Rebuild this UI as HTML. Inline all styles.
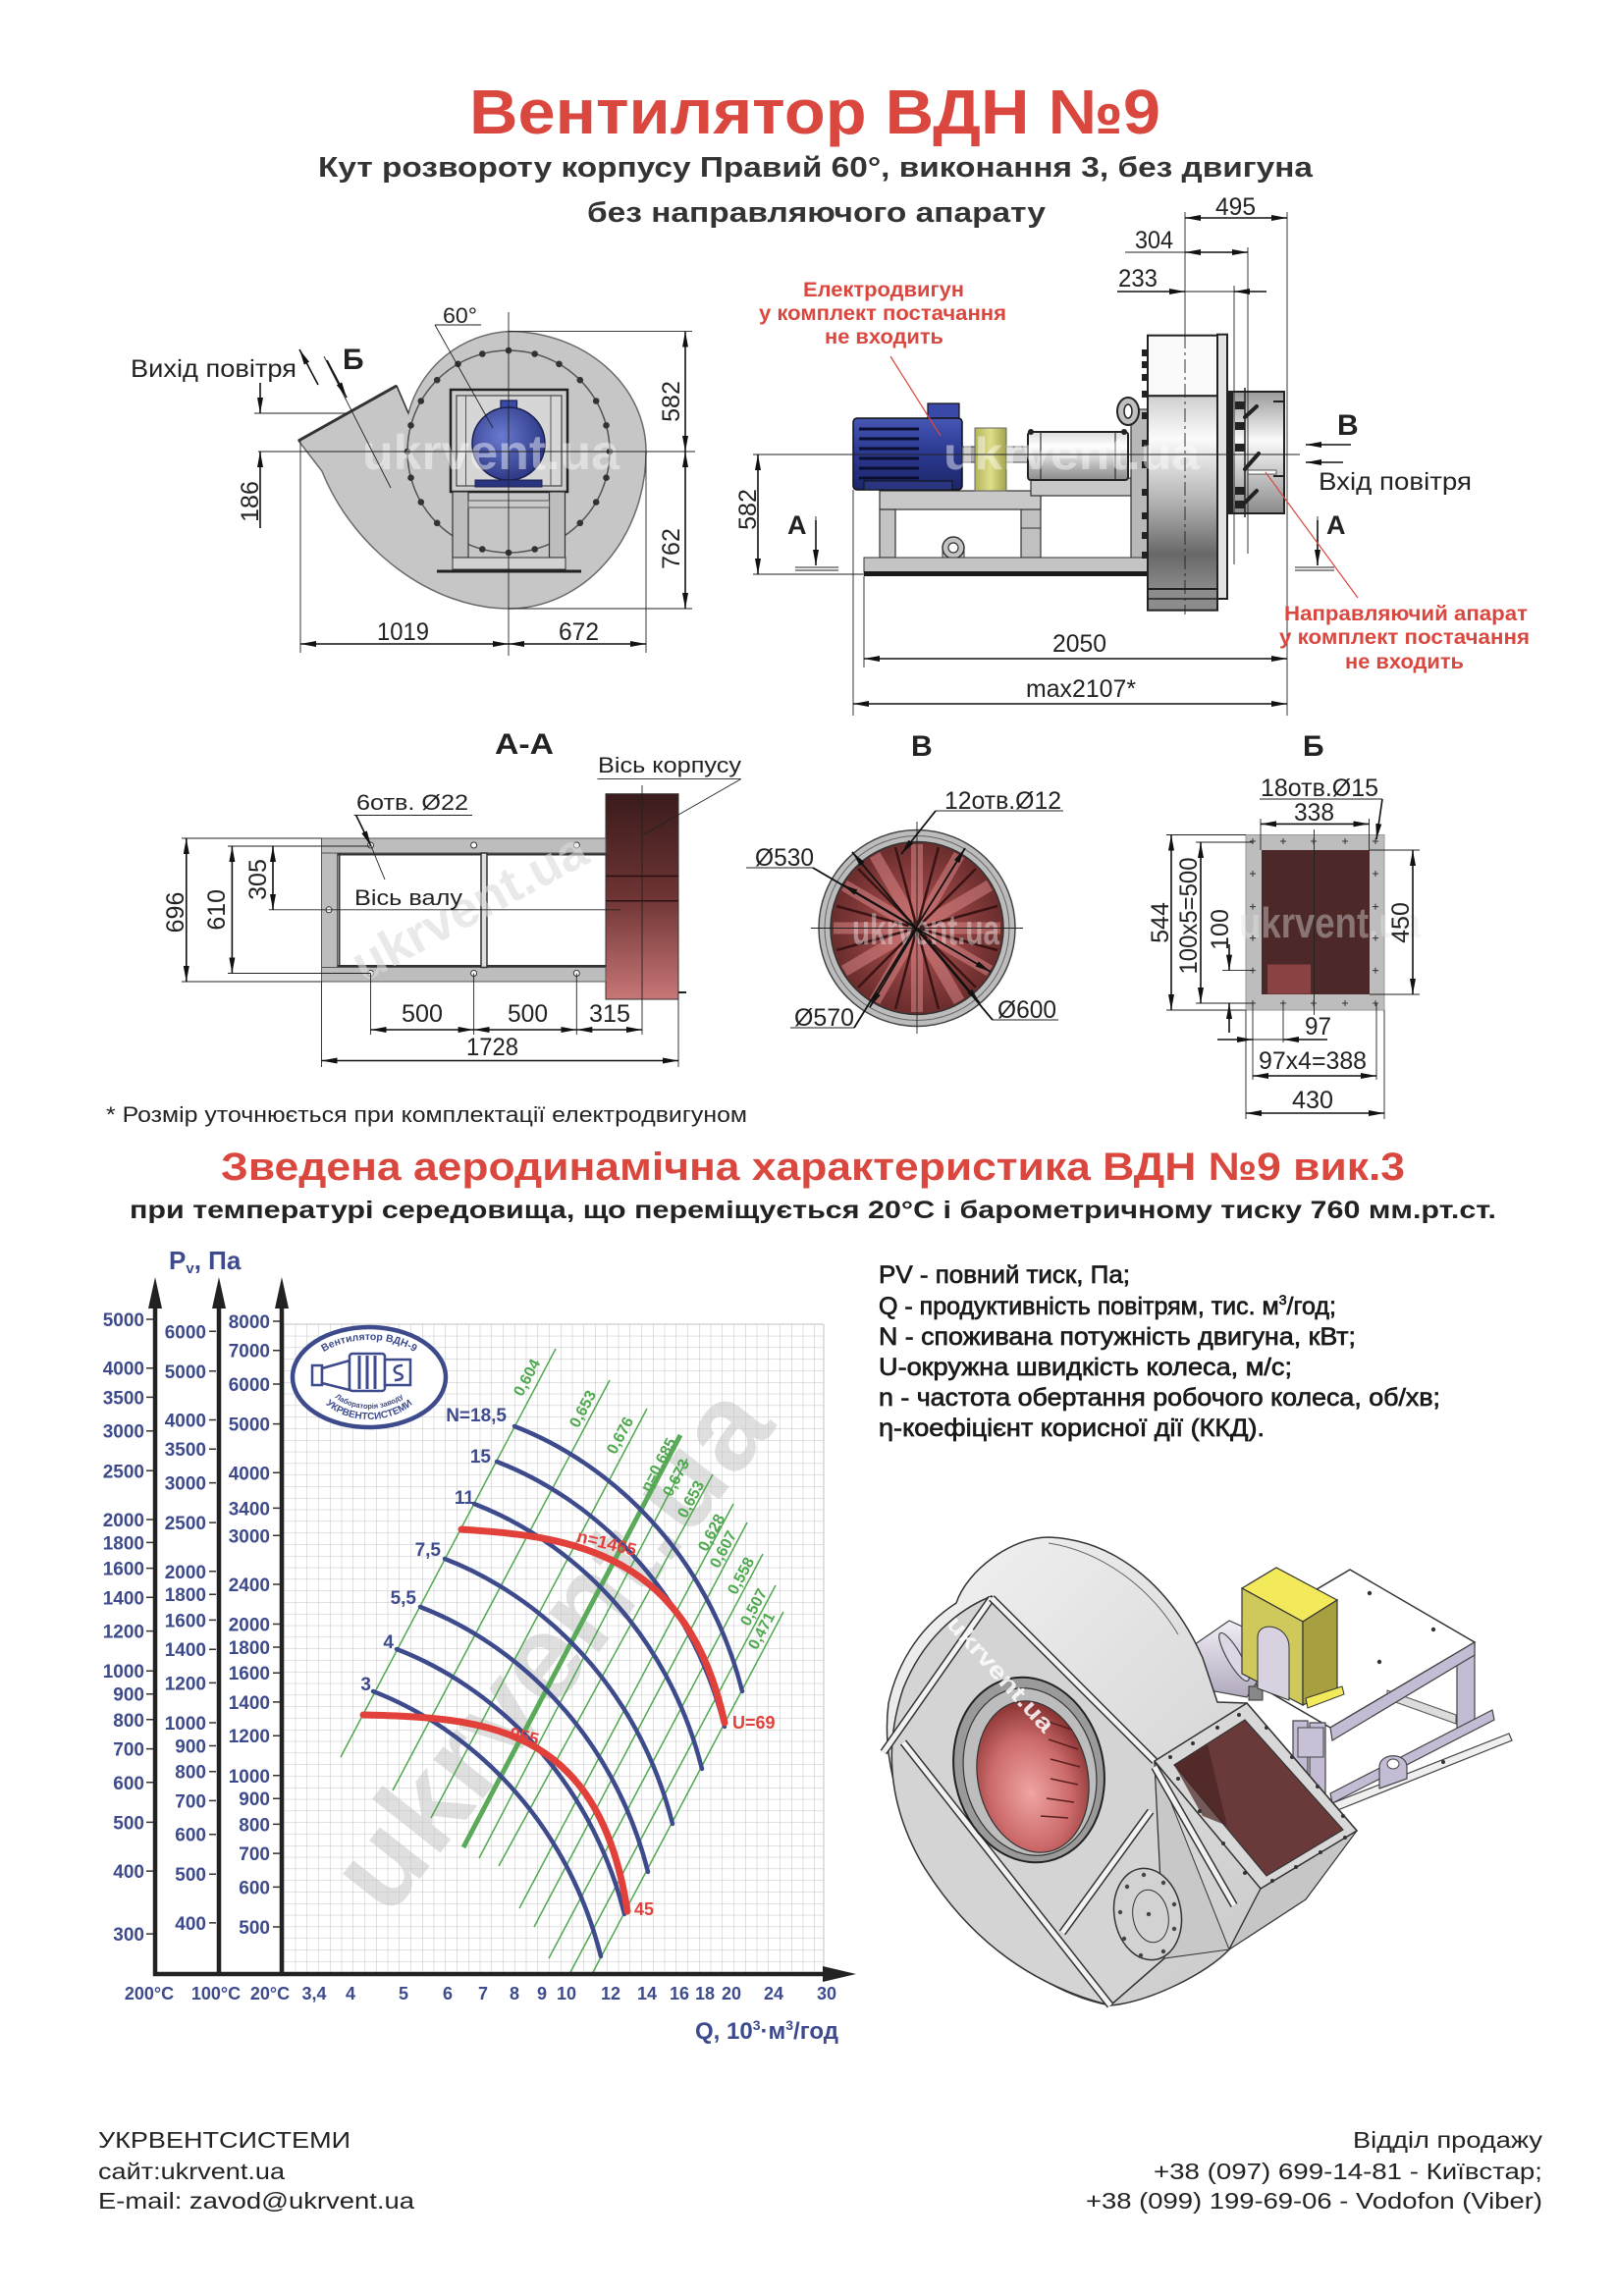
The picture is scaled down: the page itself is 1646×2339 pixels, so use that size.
<!DOCTYPE html>
<html><head><meta charset="utf-8"><title>Вентилятор ВДН №9</title>
<style>
html,body{margin:0;padding:0;background:#fff;}
svg{display:block;}
text{font-family:"Liberation Sans",Arial,sans-serif;}
</style></head><body>
<svg width="1646" height="2339" viewBox="0 0 1646 2339" xmlns="http://www.w3.org/2000/svg">
<defs>
 <marker id="ar" viewBox="0 0 16 6" refX="16" refY="3" markerWidth="16" markerHeight="6" markerUnits="userSpaceOnUse" orient="auto-start-reverse"><path d="M0,0 L16,3 L0,6 Z" fill="#111"/></marker>
 <linearGradient id="gMotor" x1="0" y1="0" x2="0" y2="1"><stop offset="0" stop-color="#4656b4"/><stop offset="0.45" stop-color="#2c3a92"/><stop offset="1" stop-color="#1c2668"/></linearGradient>
 <radialGradient id="gMotorC" cx="0.4" cy="0.4" r="0.7"><stop offset="0" stop-color="#6a7ad0"/><stop offset="1" stop-color="#25307c"/></radialGradient>
 <linearGradient id="gHous" x1="0" y1="0" x2="0" y2="1"><stop offset="0" stop-color="#cfcfcf"/><stop offset="0.22" stop-color="#fbfbfb"/><stop offset="0.55" stop-color="#b2b2b2"/><stop offset="0.82" stop-color="#686868"/><stop offset="1" stop-color="#8a8a8a"/></linearGradient>
 <linearGradient id="gInlet" x1="0" y1="0" x2="0" y2="1"><stop offset="0" stop-color="#9a9a9a"/><stop offset="0.4" stop-color="#fafafa"/><stop offset="1" stop-color="#8a8a8a"/></linearGradient>
 <linearGradient id="gBear" x1="0" y1="0" x2="0" y2="1"><stop offset="0" stop-color="#dcdcdc"/><stop offset="0.3" stop-color="#ffffff"/><stop offset="0.8" stop-color="#a8a8a8"/><stop offset="1" stop-color="#8c8c8c"/></linearGradient>
 <linearGradient id="gCoup" x1="0" y1="0" x2="1" y2="0"><stop offset="0" stop-color="#b4b45c"/><stop offset="0.5" stop-color="#dede8c"/><stop offset="1" stop-color="#a4a44c"/></linearGradient>
 <linearGradient id="gAA" x1="0" y1="0" x2="0" y2="1"><stop offset="0" stop-color="#3a1b1b"/><stop offset="0.5" stop-color="#6e3434"/><stop offset="1" stop-color="#c87676"/></linearGradient>
 <radialGradient id="gBdisk" cx="0.5" cy="0.5" r="0.5"><stop offset="0" stop-color="#b45656"/><stop offset="1" stop-color="#6a2c2c"/></radialGradient>
 <radialGradient id="gRed3d" cx="0.45" cy="0.6" r="0.6"><stop offset="0" stop-color="#f0a4a4"/><stop offset="0.6" stop-color="#cc6a6a"/><stop offset="1" stop-color="#8a3434"/></radialGradient>
 <linearGradient id="gShell" x1="0" y1="0" x2="1" y2="1"><stop offset="0" stop-color="#f4f4f4"/><stop offset="1" stop-color="#c4c4c4"/></linearGradient>
 <linearGradient id="gShaft" x1="0" y1="0" x2="0" y2="1"><stop offset="0" stop-color="#f2eef6"/><stop offset="1" stop-color="#b0a8bc"/></linearGradient>
 <pattern id="grid" x="289" y="1349" width="11.75" height="11.8" patternUnits="userSpaceOnUse"><path d="M0,0 V11.8 M0,0 H11.75" stroke="#c2c2c2" stroke-width="1" fill="none"/></pattern>
 <path id="lt" d="M312,1405 A64,40 0 0 1 440,1405"/>
 <path id="lb" d="M318,1402 A58,44 0 0 0 434,1402"/>
 <path id="lb2" d="M330,1402 A46,33 0 0 0 422,1402"/>
</defs>

<!-- ================= HEADER ================= -->
<text x="478" y="136" font-size="64" font-weight="bold" fill="#d9473f" textLength="704" lengthAdjust="spacingAndGlyphs">Вентилятор  ВДН №9</text>
<text x="324" y="180" font-size="29" font-weight="bold" fill="#333" textLength="1013" lengthAdjust="spacingAndGlyphs">Кут розвороту корпусу Правий 60°, виконання 3, без двигуна</text>
<text x="598" y="226" font-size="29" font-weight="bold" fill="#333" textLength="467" lengthAdjust="spacingAndGlyphs">без направляючого апарату</text>

<!-- ================= LEFT VIEW ================= -->
<g>
 <path d="M304,449 L404,393 L416,421 A112,112 0 0 1 518,337.6 A140,122.4 0 0 1 658,460 A140,160 0 0 1 518,620 C440,620 360,560 328,480 Z" fill="#c6c6c6" stroke="#6a6a6a" stroke-width="1.5"/>
 <line x1="304" y1="449" x2="404" y2="393" stroke="#333" stroke-width="3"/>
 <line x1="404" y1="393" x2="416" y2="421" stroke="#333" stroke-width="1.5"/>
 <circle cx="518" cy="460" r="103" fill="none" stroke="#555" stroke-width="1.5"/>
 <g fill="#333">
  <circle cx="621" cy="460" r="3.3"/><circle cx="617.5" cy="486.7" r="3.3"/><circle cx="607.2" cy="511.5" r="3.3"/><circle cx="590.8" cy="532.8" r="3.3"/><circle cx="569.5" cy="549.2" r="3.3"/><circle cx="544.7" cy="559.5" r="3.3"/><circle cx="518" cy="563" r="3.3"/><circle cx="491.3" cy="559.5" r="3.3"/><circle cx="466.5" cy="549.2" r="3.3"/><circle cx="445.2" cy="532.8" r="3.3"/><circle cx="428.8" cy="511.5" r="3.3"/><circle cx="418.5" cy="486.7" r="3.3"/><circle cx="415" cy="460" r="3.3"/><circle cx="418.5" cy="433.3" r="3.3"/><circle cx="428.8" cy="408.5" r="3.3"/><circle cx="445.2" cy="387.2" r="3.3"/><circle cx="466.5" cy="370.8" r="3.3"/><circle cx="491.3" cy="360.5" r="3.3"/><circle cx="518" cy="357" r="3.3"/><circle cx="544.7" cy="360.5" r="3.3"/><circle cx="569.5" cy="370.8" r="3.3"/><circle cx="590.8" cy="387.2" r="3.3"/><circle cx="607.2" cy="408.5" r="3.3"/><circle cx="617.5" cy="433.3" r="3.3"/>
 </g>
 <rect x="459" y="397" width="119" height="104" fill="#cdcdcd" stroke="#222" stroke-width="2.5"/>
 <rect x="465" y="403" width="107" height="92" fill="#d6d6d6" stroke="#444" stroke-width="1.2"/>
 <line x1="474.5" y1="403" x2="474.5" y2="495" stroke="#555" stroke-width="1"/>
 <line x1="561" y1="403" x2="561" y2="495" stroke="#555" stroke-width="1"/>
 <rect x="461" y="501" width="16" height="67" fill="#bdbdbd" stroke="#333" stroke-width="1.2"/>
 <rect x="559.5" y="501" width="16" height="67" fill="#bdbdbd" stroke="#333" stroke-width="1.2"/>
 <rect x="477" y="510" width="82.5" height="7" fill="#cacaca" stroke="#555" stroke-width="1"/>
 <rect x="461" y="568" width="115" height="12" fill="#d2d2d2" stroke="#333" stroke-width="1"/>
 <line x1="445" y1="582" x2="592" y2="582" stroke="#222" stroke-width="3"/>
 <rect x="510" y="408" width="16.5" height="19" fill="#3a4aa8" stroke="#1a2050" stroke-width="1.2"/>
 <circle cx="518" cy="452" r="37" fill="url(#gMotorC)" stroke="#1a2050" stroke-width="1.5"/>
 <rect x="484" y="489" width="68" height="7" fill="#2a3580" stroke="#1a2050" stroke-width="1"/>
 <text x="369" y="478" font-size="50" font-weight="bold" fill="#ffffff" opacity="0.45" textLength="262" lengthAdjust="spacingAndGlyphs">ukrvent.ua</text>
 <line x1="263" y1="460" x2="708" y2="460" stroke="#222" stroke-width="0.9"/>
 <line x1="518" y1="318" x2="518" y2="668" stroke="#222" stroke-width="0.9"/>
 <g stroke="#222" stroke-width="0.9">
  <line x1="518" y1="337.6" x2="705" y2="337.6"/><line x1="518" y1="620" x2="705" y2="620"/>
  <line x1="306" y1="449" x2="306" y2="665"/><line x1="658" y1="460" x2="658" y2="665"/>
  <line x1="259" y1="421" x2="355" y2="421"/>
  <line x1="330" y1="363" x2="398" y2="497"/>
  <line x1="443" y1="331" x2="502" y2="436"/><line x1="443" y1="331" x2="490" y2="331"/>
 </g>
 <g stroke="#111" stroke-width="1.6" marker-start="url(#ar)" marker-end="url(#ar)">
  <line x1="698" y1="337.6" x2="698" y2="460"/><line x1="698" y1="460" x2="698" y2="620"/>
  <line x1="306" y1="656" x2="518" y2="656"/><line x1="518" y1="656" x2="658" y2="656"/>
 </g>
 <g stroke="#111" stroke-width="1.6" marker-end="url(#ar)">
  <line x1="265" y1="390" x2="265" y2="421"/><line x1="265" y1="538" x2="265" y2="460"/>
  <line x1="324" y1="392" x2="305" y2="356"/><line x1="333" y1="367" x2="353" y2="405"/>
 </g>
 <g font-size="25" fill="#222">
  <text transform="translate(692,409) rotate(-90)" text-anchor="middle">582</text>
  <text transform="translate(692,559) rotate(-90)" text-anchor="middle">762</text>
  <text transform="translate(263,511) rotate(-90)" text-anchor="middle">186</text>
  <text x="384" y="652" textLength="53" lengthAdjust="spacingAndGlyphs">1019</text>
  <text x="569" y="652" textLength="41" lengthAdjust="spacingAndGlyphs">672</text>
  <text x="133" y="384" textLength="169" lengthAdjust="spacingAndGlyphs">Вихід повітря</text>
  <text x="451" y="329" font-size="22" textLength="35" lengthAdjust="spacingAndGlyphs">60°</text>
 </g>
 <text x="349" y="376" font-size="30" font-weight="bold" fill="#222">Б</text>
</g>

<!-- ================= RIGHT VIEW ================= -->
<g>
 <rect x="1040" y="505" width="20" height="63" fill="#c0c0c0" stroke="#333" stroke-width="1.2"/>
 <line x1="1040" y1="538" x2="1060" y2="538" stroke="#333" stroke-width="1"/>
 <rect x="896" y="500" width="164" height="19" fill="#c8c8c8" stroke="#333" stroke-width="1.2"/>
 <rect x="896" y="519" width="16" height="49" fill="#c4c4c4" stroke="#333" stroke-width="1.2"/>
 <rect x="1050" y="487" width="102" height="18" fill="#c8c8c8" stroke="#333" stroke-width="1.2"/>
 <rect x="1152" y="417" width="17" height="166" fill="#b8b8b8" stroke="#333" stroke-width="1.2"/>
 <rect x="960" y="558" width="22" height="12" fill="#c4c4c4" stroke="#333" stroke-width="1"/>
 <circle cx="971" cy="558" r="11" fill="#c4c4c4" stroke="#333" stroke-width="1.5"/>
 <circle cx="971" cy="558" r="5" fill="#fff" stroke="#333" stroke-width="1.2"/>
 <rect x="880" y="568" width="289" height="15" fill="#c4c4c4" stroke="#333" stroke-width="1"/>
 <rect x="880" y="582" width="289" height="5" fill="#1a1a1a"/>
 <rect x="945" y="411" width="32" height="17" fill="#3a48a8" stroke="#111" stroke-width="1.2"/>
 <rect x="869" y="426" width="111" height="73" rx="4" fill="url(#gMotor)" stroke="#111" stroke-width="1.5"/>
 <g stroke="#0a0f30" stroke-width="3">
  <line x1="875" y1="437" x2="936" y2="437"/><line x1="875" y1="447" x2="936" y2="447"/><line x1="875" y1="457" x2="936" y2="457"/><line x1="875" y1="467" x2="936" y2="467"/><line x1="875" y1="477" x2="936" y2="477"/><line x1="875" y1="487" x2="936" y2="487"/>
 </g>
 <rect x="880" y="490" width="90" height="9" fill="#2a3580" stroke="#111" stroke-width="1"/>
 <rect x="980" y="455" width="13" height="16" fill="#aaa" stroke="#333" stroke-width="1"/>
 <rect x="993" y="436" width="32" height="64" fill="url(#gCoup)" stroke="#666" stroke-width="1"/>
 <rect x="1025" y="455" width="22" height="16" fill="#d0d0d0" stroke="#555" stroke-width="1"/>
 <rect x="1047" y="440" width="102" height="49" rx="3" fill="url(#gBear)" stroke="#222" stroke-width="2"/>
 <line x1="1060" y1="440" x2="1060" y2="489" stroke="#333" stroke-width="1.2"/>
 <line x1="1136" y1="440" x2="1136" y2="489" stroke="#333" stroke-width="1.2"/>
 <circle cx="1050" cy="440" r="3" fill="#222"/><circle cx="1145" cy="440" r="3" fill="#222"/>
 <ellipse cx="1149" cy="419" rx="11" ry="14" fill="#c0c0c0" stroke="#222" stroke-width="2"/>
 <ellipse cx="1149" cy="419" rx="4" ry="7" fill="#fff" stroke="#222" stroke-width="1.5"/>
 <rect x="1169" y="341.7" width="71" height="61.6" fill="#fafafa" stroke="#222" stroke-width="2"/>
 <rect x="1169" y="403.3" width="71" height="197" fill="url(#gHous)" stroke="#222" stroke-width="2"/>
 <rect x="1169" y="600" width="71" height="21.7" fill="#8c8c8c" stroke="#222" stroke-width="2"/>
 <line x1="1169" y1="610" x2="1240" y2="610" stroke="#222" stroke-width="1.5"/>
 <rect x="1240" y="340.7" width="10" height="269.3" fill="#e2e2e2" stroke="#222" stroke-width="2"/>
 <g fill="#222">
  <rect x="1163" y="356" width="6" height="7"/><rect x="1163" y="368" width="6" height="7"/><rect x="1163" y="381" width="6" height="7"/><rect x="1163" y="398" width="6" height="7"/><rect x="1163" y="420" width="6" height="7"/><rect x="1163" y="448" width="6" height="7"/><rect x="1163" y="470" width="6" height="7"/><rect x="1163" y="498" width="6" height="7"/><rect x="1163" y="522" width="6" height="7"/><rect x="1163" y="542" width="6" height="7"/><rect x="1163" y="562" width="6" height="7"/>
 </g>
 <rect x="1252" y="399" width="56" height="124" fill="url(#gInlet)" stroke="#222" stroke-width="2"/>
 <rect x="1250" y="399" width="6" height="124" fill="#222"/>
 <line x1="1268" y1="395" x2="1268" y2="527" stroke="#222" stroke-width="1.5"/>
 <line x1="1297" y1="409" x2="1308" y2="409" stroke="#222" stroke-width="2"/>
 <line x1="1297" y1="485" x2="1308" y2="485" stroke="#222" stroke-width="2"/>
 <rect x="1271" y="479" width="29" height="4" fill="#fff" stroke="#333" stroke-width="0.8"/>
 <g fill="#222">
  <rect x="1258" y="409" width="10" height="8"/><rect x="1258" y="430" width="10" height="8"/><rect x="1258" y="452" width="10" height="8"/><rect x="1258" y="496" width="10" height="8"/><rect x="1258" y="510" width="10" height="8"/>
 </g>
 <g stroke="#222" stroke-width="4" stroke-linecap="round">
  <line x1="1268" y1="425" x2="1280" y2="414"/><line x1="1268" y1="478" x2="1282" y2="462"/><line x1="1268" y1="512" x2="1280" y2="500"/>
 </g>
 <text x="961" y="478" font-size="46" font-weight="bold" fill="#ffffff" opacity="0.45" textLength="261" lengthAdjust="spacingAndGlyphs">ukrvent.ua</text>
 <g stroke="#222" stroke-width="0.9">
  <line x1="767" y1="463" x2="1324" y2="463"/>
  <line x1="1207" y1="216" x2="1207" y2="341"/>
  <line x1="1207" y1="341" x2="1207" y2="626" stroke-dasharray="14,4,3,4"/>
  <line x1="1311" y1="216" x2="1311" y2="729"/>
  <line x1="1271" y1="252" x2="1271" y2="564"/>
  <line x1="1257" y1="291" x2="1257" y2="575"/>
  <line x1="869" y1="499" x2="869" y2="729"/>
  <line x1="880" y1="587" x2="880" y2="680"/>
  <line x1="767" y1="585" x2="880" y2="585"/>
  <line x1="1146" y1="257" x2="1207" y2="257"/>
  <line x1="1207" y1="297" x2="1257" y2="297"/>
  <line x1="831" y1="526" x2="831" y2="575"/>
  <line x1="810" y1="578" x2="854" y2="578"/><line x1="810" y1="581" x2="854" y2="581"/>
  <line x1="1342" y1="526" x2="1342" y2="575"/>
  <line x1="1319" y1="578" x2="1359" y2="578"/><line x1="1319" y1="581" x2="1359" y2="581"/>
 </g>
 <g stroke="#111" stroke-width="1.6" marker-start="url(#ar)" marker-end="url(#ar)">
  <line x1="1207" y1="222" x2="1311" y2="222"/>
  <line x1="1207" y1="257" x2="1271" y2="257"/>
  <line x1="772" y1="463" x2="772" y2="585"/>
  <line x1="880" y1="671" x2="1311" y2="671"/>
  <line x1="869" y1="717" x2="1311" y2="717"/>
 </g>
 <g stroke="#111" stroke-width="1.6" marker-end="url(#ar)">
  <line x1="1138" y1="297" x2="1207" y2="297"/>
  <line x1="1290" y1="297" x2="1257" y2="297"/>
  <line x1="831" y1="530" x2="831" y2="576"/>
  <line x1="1342" y1="530" x2="1342" y2="576"/>
  <line x1="1376" y1="453" x2="1330" y2="453"/>
  <line x1="1368" y1="471" x2="1330" y2="471"/>
 </g>
 <g font-size="25" fill="#222">
  <text x="1238" y="219" textLength="41" lengthAdjust="spacingAndGlyphs">495</text>
  <text x="1156" y="253" textLength="39" lengthAdjust="spacingAndGlyphs">304</text>
  <text x="1139" y="292" textLength="40" lengthAdjust="spacingAndGlyphs">233</text>
  <text x="1072" y="664" textLength="55" lengthAdjust="spacingAndGlyphs">2050</text>
  <text x="1045" y="710" textLength="112" lengthAdjust="spacingAndGlyphs">max2107*</text>
  <text transform="translate(770,519) rotate(-90)" text-anchor="middle">582</text>
  <text x="1343" y="499" textLength="156" lengthAdjust="spacingAndGlyphs">Вхід повітря</text>
 </g>
 <g font-weight="bold" fill="#222">
  <text x="802" y="544" font-size="27">А</text>
  <text x="1351" y="544" font-size="27">А</text>
  <text x="1362" y="443" font-size="30">В</text>
 </g>
 <g stroke="#d9473f" stroke-width="1.2">
  <line x1="907" y1="363" x2="958" y2="444"/>
  <line x1="1289" y1="481" x2="1383" y2="609"/>
 </g>
 <g font-size="21" font-weight="bold" fill="#d9473f">
  <text x="818" y="302" textLength="164" lengthAdjust="spacingAndGlyphs">Електродвигун</text>
  <text x="773" y="326" textLength="252" lengthAdjust="spacingAndGlyphs">у комплект постачання</text>
  <text x="840" y="350" textLength="121" lengthAdjust="spacingAndGlyphs">не входить</text>
  <text x="1308" y="632" textLength="248" lengthAdjust="spacingAndGlyphs">Направляючий апарат</text>
  <text x="1303" y="656" textLength="255" lengthAdjust="spacingAndGlyphs">у комплект постачання</text>
  <text x="1370" y="681" textLength="121" lengthAdjust="spacingAndGlyphs">не входить</text>
 </g>
</g>

<!-- ================= SECTION HEADINGS ================= -->
<g font-size="30" font-weight="bold" fill="#222">
 <text x="504" y="768" textLength="60" lengthAdjust="spacingAndGlyphs">А-А</text>
 <text x="928" y="770">В</text>
 <text x="1327" y="770">Б</text>
</g>

<!-- ================= A-A ================= -->
<g>
 <rect x="617" y="808.7" width="74" height="209.3" fill="url(#gAA)" stroke="#333" stroke-width="1"/>
 <line x1="617" y1="892.5" x2="691" y2="892.5" stroke="#2a1010" stroke-width="1.5"/>
 <line x1="617" y1="917.7" x2="691" y2="917.7" stroke="#2a1010" stroke-width="1.5"/>
 <line x1="691" y1="1011" x2="699" y2="1011" stroke="#222" stroke-width="2"/>
 <rect x="327.5" y="854" width="289.5" height="15" fill="#bdbdbd" stroke="#555" stroke-width="1"/>
 <rect x="327.5" y="985.5" width="289.5" height="14.5" fill="#bdbdbd" stroke="#555" stroke-width="1"/>
 <rect x="327.5" y="869" width="16" height="116.5" fill="#bdbdbd" stroke="#555" stroke-width="1"/>
 <line x1="344" y1="870.5" x2="617" y2="870.5" stroke="#333" stroke-width="2"/>
 <line x1="344" y1="984" x2="617" y2="984" stroke="#333" stroke-width="2"/>
 <line x1="345.5" y1="869" x2="345.5" y2="985" stroke="#333" stroke-width="2"/>
 <rect x="490" y="869" width="6" height="116.5" fill="#e0e0e0" stroke="#333" stroke-width="1.5"/>
 <g fill="#fff" stroke="#333" stroke-width="1">
  <circle cx="377.5" cy="861" r="3"/><circle cx="482.6" cy="861" r="3"/><circle cx="587.3" cy="861" r="3"/>
  <circle cx="377.5" cy="991.5" r="3"/><circle cx="482.6" cy="991.5" r="3"/><circle cx="587.3" cy="991.5" r="3"/>
  <circle cx="335" cy="926.8" r="3"/>
 </g>
 <text x="345" y="960" font-size="52" font-weight="bold" fill="#dcdcdc" opacity="0.6" transform="rotate(-28 440 930)">ukrvent.ua</text>
 <g stroke="#222" stroke-width="0.9">
  <line x1="273.7" y1="926.8" x2="632" y2="926.8"/>
  <line x1="654" y1="800" x2="654" y2="1054"/>
  <line x1="185" y1="854" x2="327.5" y2="854"/>
  <line x1="232" y1="862" x2="377.5" y2="862"/>
  <line x1="232" y1="991.5" x2="377.5" y2="991.5"/>
  <line x1="185" y1="1000" x2="327.5" y2="1000"/>
  <line x1="327.5" y1="1000" x2="327.5" y2="1087"/>
  <line x1="377.5" y1="991.5" x2="377.5" y2="1054"/>
  <line x1="482.6" y1="991.5" x2="482.6" y2="1054"/>
  <line x1="587.3" y1="991.5" x2="587.3" y2="1054"/>
  <line x1="691" y1="1018" x2="691" y2="1087"/>
  <line x1="360.6" y1="830.5" x2="481" y2="830.5"/>
  <line x1="378" y1="862" x2="392" y2="896"/>
  <line x1="608.5" y1="793.6" x2="754.7" y2="793.6"/>
  <line x1="754.7" y1="793.6" x2="655" y2="850.6"/>
 </g>
 <g stroke="#111" stroke-width="1.6" marker-start="url(#ar)" marker-end="url(#ar)">
  <line x1="189.8" y1="854" x2="189.8" y2="1000"/>
  <line x1="236.4" y1="862" x2="236.4" y2="991.5"/>
  <line x1="278" y1="862" x2="278" y2="926.8"/>
  <line x1="377.5" y1="1049" x2="482.6" y2="1049"/>
  <line x1="482.6" y1="1049" x2="587.3" y2="1049"/>
  <line x1="587.3" y1="1049" x2="654" y2="1049"/>
  <line x1="327.5" y1="1080.5" x2="691" y2="1080.5"/>
 </g>
 <line x1="362.7" y1="830.5" x2="378" y2="862" stroke="#111" stroke-width="1.6" marker-end="url(#ar)"/>
 <g font-size="25" fill="#222">
  <text transform="translate(187,929.5) rotate(-90)" text-anchor="middle">696</text>
  <text transform="translate(229,926.8) rotate(-90)" text-anchor="middle">610</text>
  <text transform="translate(271,896) rotate(-90)" text-anchor="middle">305</text>
  <text x="409" y="1041" textLength="42" lengthAdjust="spacingAndGlyphs">500</text>
  <text x="517" y="1041" textLength="41" lengthAdjust="spacingAndGlyphs">500</text>
  <text x="600" y="1041" textLength="42" lengthAdjust="spacingAndGlyphs">315</text>
  <text x="475" y="1075" textLength="53" lengthAdjust="spacingAndGlyphs">1728</text>
 </g>
 <g font-size="22" fill="#222">
  <text x="363" y="825" textLength="114" lengthAdjust="spacingAndGlyphs">6отв. Ø22</text>
  <text x="361" y="922" textLength="110" lengthAdjust="spacingAndGlyphs">Вісь валу</text>
  <text x="609" y="787" textLength="146" lengthAdjust="spacingAndGlyphs">Вісь корпусу</text>
 </g>
</g>

<!-- ================= B VIEW ================= -->
<g>
 <circle cx="934" cy="945.5" r="100" fill="#bcbcbc" stroke="#444" stroke-width="1.5"/>
 <circle cx="934" cy="945.5" r="94" fill="none" stroke="#666" stroke-width="1"/>
 <circle cx="934" cy="945.5" r="88" fill="url(#gBdisk)" stroke="#333" stroke-width="1.5"/>
 <g stroke="#d88484" stroke-width="12" opacity="0.55">
  <line x1="934" y1="945.5" x2="934" y2="860"/><line x1="934" y1="945.5" x2="977" y2="871"/><line x1="934" y1="945.5" x2="1008" y2="902"/><line x1="934" y1="945.5" x2="1019" y2="945.5"/><line x1="934" y1="945.5" x2="1008" y2="989"/><line x1="934" y1="945.5" x2="977" y2="1020"/><line x1="934" y1="945.5" x2="934" y2="1031"/><line x1="934" y1="945.5" x2="891" y2="1020"/><line x1="934" y1="945.5" x2="860" y2="989"/><line x1="934" y1="945.5" x2="849" y2="945.5"/><line x1="934" y1="945.5" x2="860" y2="902"/><line x1="934" y1="945.5" x2="891" y2="871"/>
 </g>
 <g stroke="#3a1414" stroke-width="2.5">
  <line x1="934" y1="945.5" x2="956" y2="863"/><line x1="934" y1="945.5" x2="994" y2="885"/><line x1="934" y1="945.5" x2="1016" y2="923"/><line x1="934" y1="945.5" x2="1016" y2="968"/><line x1="934" y1="945.5" x2="994" y2="1006"/><line x1="934" y1="945.5" x2="956" y2="1028"/><line x1="934" y1="945.5" x2="912" y2="1028"/><line x1="934" y1="945.5" x2="874" y2="1006"/><line x1="934" y1="945.5" x2="852" y2="968"/><line x1="934" y1="945.5" x2="852" y2="923"/><line x1="934" y1="945.5" x2="874" y2="885"/><line x1="934" y1="945.5" x2="912" y2="863"/>
 </g>
 <circle cx="934" cy="945.5" r="8" fill="#4a1a1a"/>
 <text x="868" y="962" font-size="44" font-weight="bold" fill="#e8e8e8" opacity="0.45" textLength="150" lengthAdjust="spacingAndGlyphs">ukrvent.ua</text>
 <g stroke="#222" stroke-width="0.9">
  <line x1="826" y1="945.5" x2="1042" y2="945.5"/>
  <line x1="934" y1="837" x2="934" y2="1053"/>
  <line x1="953" y1="826" x2="1083" y2="826"/>
  <line x1="760" y1="884" x2="828" y2="884"/>
  <line x1="805" y1="1047" x2="870" y2="1047"/>
  <line x1="1011" y1="1039" x2="1078" y2="1039"/>
 </g>
 <g stroke="#111" stroke-width="1.8" marker-end="url(#ar)">
  <line x1="953" y1="826" x2="918" y2="870"/>
  <line x1="828" y1="884" x2="1009" y2="990"/>
  <line x1="934" y1="945.5" x2="858" y2="901"/>
  <line x1="1011" y1="1039" x2="868" y2="868"/>
  <line x1="934" y1="945.5" x2="998" y2="1022"/>
  <line x1="870" y1="1047" x2="983" y2="864"/>
  <line x1="934" y1="945.5" x2="886" y2="1026"/>
 </g>
 <g font-size="25" fill="#222">
  <text x="962" y="824" textLength="119" lengthAdjust="spacingAndGlyphs">12отв.Ø12</text>
  <text x="769" y="882" textLength="60" lengthAdjust="spacingAndGlyphs">Ø530</text>
  <text x="809" y="1045" textLength="61" lengthAdjust="spacingAndGlyphs">Ø570</text>
  <text x="1016" y="1037" textLength="60" lengthAdjust="spacingAndGlyphs">Ø600</text>
 </g>
</g>

<!-- ================= Б VIEW ================= -->
<g>
 <rect x="1269" y="850.5" width="141" height="178.5" fill="#bdbdbd" stroke="#999" stroke-width="1"/>
 <rect x="1285" y="866" width="110" height="147" fill="#4c2828"/>
 <rect x="1291" y="982.5" width="44" height="30" fill="#8a4242"/>
 <line x1="1338.5" y1="845" x2="1338.5" y2="1034" stroke="#222" stroke-width="0.9"/>
 <text x="1262" y="955" font-size="44" font-weight="bold" fill="#e6e6e6" opacity="0.4" textLength="185" lengthAdjust="spacingAndGlyphs">ukrvent.ua</text>
 <g stroke="#333" stroke-width="1">
  <path d="M1273,857h6M1276,854v6 M1304,857h6M1307,854v6 M1335,857h6M1338,854v6 M1367,857h6M1370,854v6 M1398,857h6M1401,854v6"/>
  <path d="M1273,1022h6M1276,1019v6 M1304,1022h6M1307,1019v6 M1335,1022h6M1338,1019v6 M1367,1022h6M1370,1019v6 M1398,1022h6M1401,1019v6"/>
  <path d="M1273,890h6M1276,887v6 M1273,923.6h6M1276,920.6v6 M1273,955.6h6M1276,952.6v6 M1273,988.6h6M1276,985.6v6"/>
  <path d="M1398,890h6M1401,887v6 M1398,923.6h6M1401,920.6v6 M1398,955.6h6M1401,952.6v6 M1398,988.6h6M1401,985.6v6"/>
 </g>
 <g stroke="#222" stroke-width="0.9">
  <line x1="1188" y1="850.5" x2="1269" y2="850.5"/>
  <line x1="1218" y1="858" x2="1276" y2="858"/>
  <line x1="1218" y1="1022" x2="1276" y2="1022"/>
  <line x1="1188" y1="1029" x2="1269" y2="1029"/>
  <line x1="1245" y1="988.6" x2="1276" y2="988.6"/>
  <line x1="1395" y1="866" x2="1446" y2="866"/>
  <line x1="1395" y1="1013" x2="1446" y2="1013"/>
  <line x1="1284" y1="834" x2="1284" y2="866"/>
  <line x1="1394.5" y1="834" x2="1394.5" y2="866"/>
  <line x1="1269" y1="1029" x2="1269" y2="1140"/>
  <line x1="1276" y1="1022" x2="1276" y2="1100"/>
  <line x1="1307" y1="1022" x2="1307" y2="1062"/>
  <line x1="1402" y1="1022" x2="1402" y2="1100"/>
  <line x1="1410" y1="1029" x2="1410" y2="1140"/>
  <line x1="1283" y1="814" x2="1408" y2="814"/>
  <line x1="1276" y1="1059" x2="1307" y2="1059"/>
 </g>
 <g stroke="#111" stroke-width="1.6" marker-start="url(#ar)" marker-end="url(#ar)">
  <line x1="1193" y1="850.5" x2="1193" y2="1029"/>
  <line x1="1223" y1="858" x2="1223" y2="1022"/>
  <line x1="1439" y1="866" x2="1439" y2="1013"/>
  <line x1="1284" y1="839.4" x2="1394.5" y2="839.4"/>
  <line x1="1276" y1="1096" x2="1402" y2="1096"/>
  <line x1="1269" y1="1134" x2="1410" y2="1134"/>
 </g>
 <g stroke="#111" stroke-width="1.6" marker-end="url(#ar)">
  <line x1="1252" y1="962" x2="1252" y2="988.6"/>
  <line x1="1252" y1="1052" x2="1252" y2="1022"/>
  <line x1="1408" y1="814" x2="1402" y2="855"/>
  <line x1="1240" y1="1059" x2="1276" y2="1059"/>
  <line x1="1352" y1="1059" x2="1307" y2="1059"/>
 </g>
 <g font-size="25" fill="#222">
  <text transform="translate(1190,940) rotate(-90)" text-anchor="middle">544</text>
  <text transform="translate(1219,933) rotate(-90)" text-anchor="middle" textLength="119" lengthAdjust="spacingAndGlyphs">100х5=500</text>
  <text transform="translate(1251,947) rotate(-90)" text-anchor="middle">100</text>
  <text transform="translate(1435,940) rotate(-90)" text-anchor="middle">450</text>
  <text x="1318" y="836" textLength="41" lengthAdjust="spacingAndGlyphs">338</text>
  <text x="1284" y="811" textLength="120" lengthAdjust="spacingAndGlyphs">18отв.Ø15</text>
  <text x="1329" y="1054" textLength="27" lengthAdjust="spacingAndGlyphs">97</text>
  <text x="1282" y="1089" textLength="110" lengthAdjust="spacingAndGlyphs">97х4=388</text>
  <text x="1316" y="1129" textLength="42" lengthAdjust="spacingAndGlyphs">430</text>
 </g>
</g>

<!-- ================= FOOTNOTE & HEADING 2 ================= -->
<text x="108" y="1143" font-size="22" fill="#222" textLength="653" lengthAdjust="spacingAndGlyphs">* Розмір уточнюється при комплектації електродвигуном</text>
<text x="225" y="1202" font-size="40" font-weight="bold" fill="#d9473f" textLength="1206" lengthAdjust="spacingAndGlyphs">Зведена аеродинамічна характеристика ВДН №9 вик.3</text>
<text x="132" y="1241" font-size="25" font-weight="bold" fill="#222" textLength="1392" lengthAdjust="spacingAndGlyphs">при температурі середовища, що переміщується 20°С і барометричному тиску 760 мм.рт.ст.</text>

<!-- ================= CHART ================= -->
<g>
 <rect x="289" y="1349" width="550" height="662" fill="url(#grid)"/>
 <line x1="839" y1="1349" x2="839" y2="2011" stroke="#c2c2c2" stroke-width="1"/>
 <line x1="289" y1="1349" x2="839" y2="1349" stroke="#c2c2c2" stroke-width="1"/>
 <text transform="translate(395,1955) rotate(-51.7)" font-size="122" font-weight="bold" fill="#c6c6c6" opacity="0.55" textLength="640" lengthAdjust="spacingAndGlyphs">ukrvent.ua</text>
 <g stroke="#4ea84e" stroke-width="1.5">
  <line x1="347" y1="1790" x2="566" y2="1374"/>
  <line x1="400" y1="1824" x2="621" y2="1406"/>
  <line x1="439" y1="1852" x2="659" y2="1435"/>
  <line x1="488" y1="1893" x2="700" y2="1486"/>
  <line x1="508" y1="1901" x2="726" y2="1502"/>
  <line x1="529" y1="1944" x2="747" y2="1532"/>
  <line x1="544" y1="1963" x2="761" y2="1551"/>
  <line x1="559" y1="1995" x2="777" y2="1583"/>
  <line x1="580" y1="2011" x2="790" y2="1615"/>
  <line x1="603" y1="2011" x2="798" y2="1642"/>
 </g>
 <line x1="472" y1="1882" x2="693" y2="1462" stroke="#5aaa5a" stroke-width="5"/>
 <g fill="none" stroke="#3d4a8c" stroke-width="4.5" stroke-linecap="round">
  <path d="M524,1453 C620,1490 720,1580 756,1723"/>
  <path d="M506,1489 C602,1526 702,1616 738,1759"/>
  <path d="M483,1532 C579,1569 679,1659 715,1802"/>
  <path d="M453,1588 C549,1625 649,1715 685,1858"/>
  <path d="M428,1637 C524,1674 624,1764 660,1907"/>
  <path d="M404,1680 C500,1717 600,1807 636,1950"/>
  <path d="M380,1723 C476,1760 576,1850 612,1993"/>
 </g>
 <g fill="none" stroke="#e2413b" stroke-width="7" stroke-linecap="round">
  <path d="M470,1558 C580,1565 700,1580 738,1755"/>
  <path d="M370,1747 C490,1750 610,1755 639,1947"/>
 </g>
 <g font-size="16" font-weight="bold" fill="#4ea84e" text-anchor="middle">
  <text transform="translate(536,1403) rotate(-62)" dy="6">0,604</text>
  <text transform="translate(593,1435) rotate(-62)" dy="6">0,653</text>
  <text transform="translate(631,1462) rotate(-62)" dy="6">0,676</text>
  <text transform="translate(670,1492) rotate(-62)" dy="6">η=0,685</text>
  <text transform="translate(688,1505) rotate(-62)" dy="6">0,673</text>
  <text transform="translate(703,1527) rotate(-62)" dy="6">0,653</text>
  <text transform="translate(724,1561) rotate(-62)" dy="6">0,628</text>
  <text transform="translate(736,1578) rotate(-62)" dy="6">0,607</text>
  <text transform="translate(754,1605) rotate(-62)" dy="6">0,558</text>
  <text transform="translate(767,1637) rotate(-62)" dy="6">0,507</text>
  <text transform="translate(775,1661) rotate(-62)" dy="6">0,471</text>
 </g>
 <g font-size="19" font-weight="bold" fill="#3d4a8c" text-anchor="end">
  <text x="516" y="1448">N=18,5</text>
  <text x="500" y="1490">15</text>
  <text x="483" y="1532">11</text>
  <text x="449" y="1585">7,5</text>
  <text x="424" y="1634">5,5</text>
  <text x="401" y="1679">4</text>
  <text x="378" y="1722">3</text>
 </g>
 <g font-size="18" font-weight="bold" fill="#e2413b">
  <text transform="translate(618,1572) rotate(14)" text-anchor="middle" dy="6">n=1465</text>
  <text transform="translate(534,1769) rotate(14)" text-anchor="middle" dy="6">955</text>
  <text x="746" y="1761">U=69</text>
  <text x="646" y="1951">45</text>
 </g>
 <ellipse cx="376" cy="1403" rx="78" ry="51" fill="#fff" stroke="#3d4a8c" stroke-width="4.5"/>
 <g fill="#3d4a8c" font-weight="bold">
  <text font-size="10.5"><textPath href="#lt" startOffset="50%" text-anchor="middle">Вентилятор ВДН-9</textPath></text>
  <text font-size="10"><textPath href="#lb" startOffset="50%" text-anchor="middle">УКРВЕНТСИСТЕМИ</textPath></text>
  <text font-size="7.5"><textPath href="#lb2" startOffset="50%" text-anchor="middle">Лабораторія заводу</textPath></text>
 </g>
 <g fill="#fff" stroke="#3d4a8c" stroke-width="2.5">
  <rect x="318" y="1391" width="10" height="20"/>
  <polygon points="328,1394 356,1386 356,1416 328,1409"/>
  <rect x="356" y="1379" width="36" height="38" rx="3"/>
  <rect x="392" y="1385" width="26" height="26"/>
 </g>
 <g stroke="#3d4a8c" stroke-width="3"><line x1="366" y1="1381" x2="366" y2="1415"/><line x1="374" y1="1381" x2="374" y2="1415"/><line x1="382" y1="1381" x2="382" y2="1415"/></g>
 <path d="M410,1391 C400,1391 400,1398 405,1399 C412,1400 412,1406 402,1406" fill="none" stroke="#3d4a8c" stroke-width="2.5"/>
 <g stroke="#222" stroke-width="4.5">
  <line x1="158" y1="1325" x2="158" y2="2013"/>
  <line x1="223" y1="1325" x2="223" y2="2013"/>
  <line x1="287" y1="1325" x2="287" y2="2013"/>
  <line x1="156" y1="2011" x2="842" y2="2011"/>
 </g>
 <g fill="#222">
  <polygon points="151,1333 158,1301 165,1333"/>
  <polygon points="216,1333 223,1301 230,1333"/>
  <polygon points="280,1333 287,1301 294,1333"/>
  <polygon points="838,2003 872,2011 838,2019"/>
 </g>
 <g stroke="#333" stroke-width="1.5">
  <path d="M149,1344h7M149,1393.7h7M149,1423.4h7M149,1457.7h7M149,1498.3h7M149,1548h7M149,1571.4h7M149,1597.6h7M149,1627.3h7M149,1661.6h7M149,1702.2h7M149,1725.7h7M149,1751.8h7M149,1781.6h7M149,1815.8h7M149,1856.4h7M149,1906.1h7M149,1970.1h7"/>
  <path d="M213,1356.3h7M213,1396.8h7M213,1446.5h7M213,1476.2h7M213,1510.6h7M213,1551.1h7M213,1600.8h7M213,1624.2h7M213,1650.4h7M213,1680.2h7M213,1714.4h7M213,1755h7M213,1778.5h7M213,1804.7h7M213,1834.4h7M213,1868.7h7M213,1909.2h7M213,1958.9h7"/>
  <path d="M278,1346h7M278,1375.7h7M278,1410h7M278,1450.6h7M278,1500.3h7M278,1536.4h7M278,1564.3h7M278,1614h7M278,1654.5h7M278,1678h7M278,1704.2h7M278,1733.9h7M278,1768.2h7M278,1808.8h7M278,1832.2h7M278,1858.4h7M278,1888.1h7M278,1922.4h7M278,1963h7"/>
 </g>
 <g font-size="19" font-weight="bold" fill="#3d4a8c" text-anchor="end">
  <text x="147" y="1351">5000</text><text x="147" y="1400.7">4000</text><text x="147" y="1430.4">3500</text><text x="147" y="1464.7">3000</text><text x="147" y="1505.3">2500</text><text x="147" y="1555">2000</text><text x="147" y="1578.4">1800</text><text x="147" y="1604.6">1600</text><text x="147" y="1634.3">1400</text><text x="147" y="1668.6">1200</text><text x="147" y="1709.2">1000</text><text x="147" y="1732.7">900</text><text x="147" y="1758.8">800</text><text x="147" y="1788.6">700</text><text x="147" y="1822.8">600</text><text x="147" y="1863.4">500</text><text x="147" y="1913.1">400</text><text x="147" y="1977.1">300</text>
  <text x="210" y="1363.3">6000</text><text x="210" y="1403.8">5000</text><text x="210" y="1453.5">4000</text><text x="210" y="1483.2">3500</text><text x="210" y="1517.6">3000</text><text x="210" y="1558.1">2500</text><text x="210" y="1607.8">2000</text><text x="210" y="1631.2">1800</text><text x="210" y="1657.4">1600</text><text x="210" y="1687.2">1400</text><text x="210" y="1721.4">1200</text><text x="210" y="1762">1000</text><text x="210" y="1785.5">900</text><text x="210" y="1811.7">800</text><text x="210" y="1841.4">700</text><text x="210" y="1875.7">600</text><text x="210" y="1916.2">500</text><text x="210" y="1965.9">400</text>
  <text x="275" y="1353">8000</text><text x="275" y="1382.7">7000</text><text x="275" y="1417">6000</text><text x="275" y="1457.6">5000</text><text x="275" y="1507.3">4000</text><text x="275" y="1543.4">3400</text><text x="275" y="1571.3">3000</text><text x="275" y="1621">2400</text><text x="275" y="1661.5">2000</text><text x="275" y="1685">1800</text><text x="275" y="1711.2">1600</text><text x="275" y="1740.9">1400</text><text x="275" y="1775.2">1200</text><text x="275" y="1815.8">1000</text><text x="275" y="1839.2">900</text><text x="275" y="1865.4">800</text><text x="275" y="1895.1">700</text><text x="275" y="1929.4">600</text><text x="275" y="1970">500</text>
 </g>
 <g font-size="18" font-weight="bold" fill="#3d4a8c" text-anchor="middle">
  <text x="152" y="2037">200°С</text><text x="220" y="2037">100°С</text><text x="275" y="2037">20°С</text>
  <text x="320" y="2037">3,4</text><text x="357" y="2037">4</text><text x="411" y="2037">5</text><text x="456" y="2037">6</text><text x="492" y="2037">7</text><text x="524" y="2037">8</text><text x="552" y="2037">9</text><text x="577" y="2037">10</text><text x="622" y="2037">12</text><text x="659" y="2037">14</text><text x="692" y="2037">16</text><text x="718" y="2037">18</text><text x="745" y="2037">20</text><text x="788" y="2037">24</text><text x="842" y="2037">30</text>
 </g>
 <text x="172" y="1293" font-size="26" font-weight="bold" fill="#3d4a8c">P<tspan font-size="15" dy="4">v</tspan><tspan dy="-4">, Па</tspan></text>
 <text x="708" y="2077" font-size="24" font-weight="bold" fill="#3d4a8c">Q, 10<tspan font-size="14" dy="-9">3</tspan><tspan dy="9">·м</tspan><tspan font-size="14" dy="-9">3</tspan><tspan dy="9">/год</tspan></text>
</g>

<!-- ================= LEGEND ================= -->
<g font-size="25" fill="#1a1a1a" stroke="#1a1a1a" stroke-width="0.7">
 <text x="895" y="1307" textLength="256" lengthAdjust="spacingAndGlyphs">PV - повний тиск, Па;</text>
 <text x="895" y="1339">Q - продуктивність повітрям, тис. м<tspan font-size="14" dy="-10">3</tspan><tspan dy="10">/год;</tspan></text>
 <text x="895" y="1370" textLength="486" lengthAdjust="spacingAndGlyphs">N - споживана потужність двигуна, кВт;</text>
 <text x="895" y="1401" textLength="421" lengthAdjust="spacingAndGlyphs">U-окружна швидкість колеса, м/с;</text>
 <text x="895" y="1432" textLength="572" lengthAdjust="spacingAndGlyphs">n - частота обертання робочого колеса, об/хв;</text>
 <text x="895" y="1463" textLength="393" lengthAdjust="spacingAndGlyphs">η-коефіцієнт корисної дії (ККД).</text>
</g>

<!-- ================= 3D FAN ================= -->
<g>
 <!-- frame behind -->
 <polygon points="1375,1599 1502,1673 1355,1760 1228,1686" fill="#ffffff" stroke="#333" stroke-width="1.5"/>
 <circle cx="1395" cy="1623" r="2.2" fill="#333"/><circle cx="1460" cy="1660" r="2.2" fill="#333"/><circle cx="1405" cy="1693" r="2.2" fill="#333"/>
 <polygon points="1413,1722 1483,1747 1483,1756 1413,1731" fill="#dcdcdc" stroke="#555" stroke-width="1"/>
 <polygon points="1484,1684 1502,1674 1502,1755 1484,1762" fill="#c4bcd4" stroke="#444" stroke-width="1.2"/>
 <polygon points="1502,1673 1355,1760 1357,1773 1502,1686" fill="#c4bcd4" stroke="#444" stroke-width="1.2"/>
 <polygon points="1317,1753 1332,1753 1332,1827 1317,1827" fill="#c4bcd4" stroke="#444" stroke-width="1.2"/>
 <polygon points="1334,1755 1350,1755 1350,1829 1334,1829" fill="#c4bcd4" stroke="#444" stroke-width="1.2"/>
 <rect x="1322" y="1760" width="26" height="30" fill="#c8c0d6" stroke="#444" stroke-width="1"/>
 <polygon points="1355,1827 1520,1742 1522,1752 1357,1837" fill="#c4bcd4" stroke="#444" stroke-width="1.2"/>
 <polygon points="1357,1837 1537,1766 1540,1773 1360,1845" fill="#f0f0f0" stroke="#444" stroke-width="1.2"/>
 <path d="M1405,1822 L1405,1800 C1405,1785 1433,1785 1433,1800 L1433,1812 Z" fill="#c4bcd4" stroke="#444" stroke-width="1.2"/>
 <ellipse cx="1419" cy="1797" rx="6" ry="5" fill="#fff" stroke="#444" stroke-width="1"/>
 <circle cx="1470" cy="1795" r="2" fill="#333"/>
 <!-- shaft -->
 <polygon points="1210,1680 1252,1651 1306,1675 1270,1729 1221,1720" fill="url(#gShaft)" stroke="#444" stroke-width="1.2"/>
 <ellipse cx="1257" cy="1688" rx="7" ry="28" transform="rotate(-30 1257 1688)" fill="#ddd6e4" stroke="#444" stroke-width="1.2"/>
 <rect x="1272" y="1718" width="14" height="14" fill="#888" stroke="#333" stroke-width="1"/>
 <!-- yellow box -->
 <polygon points="1265,1618 1300,1597 1362,1630 1327,1652" fill="#f2ea5a" stroke="#333" stroke-width="1.2"/>
 <polygon points="1265,1618 1327,1652 1327,1737 1265,1705" fill="#cfc85a" stroke="#333" stroke-width="1.2"/>
 <polygon points="1327,1652 1362,1630 1362,1720 1327,1737" fill="#a8a040" stroke="#333" stroke-width="1.2"/>
 <path d="M1281,1720 L1281,1668 C1281,1650 1313,1655 1313,1678 L1313,1732 Z" fill="#d8d2e0" stroke="#333" stroke-width="1"/>
 <polygon points="1330,1730 1367,1718 1369,1726 1332,1740" fill="#f2ea5a" stroke="#333" stroke-width="1"/>
 <!-- fan body -->
 <path d="M974,1633 C985,1600 1030,1566 1068,1566 C1130,1568 1190,1610 1225,1689 L1240,1734 L1270,1735 L1382,1865 L1284,1924 L1252,1986 C1230,2010 1170,2040 1131,2043 C1060,2030 990,1970 950,1905 C915,1850 898,1790 905,1735 C915,1690 940,1655 974,1633 Z" fill="url(#gShell)" stroke="#333" stroke-width="1.5"/>
 <path d="M1010,1626 L1176,1794 L1186,1995 L1131,2043 C1040,2020 980,1965 940,1900 C905,1840 900,1780 920,1720 C940,1670 975,1640 1010,1626 Z" fill="#d4d4d4" stroke="#333" stroke-width="1.5"/>
 <path d="M1176,1794 L1252,1986 L1186,1995 Z" fill="#c8c8c8" stroke="#333" stroke-width="1"/>
 <path d="M1068,1572 C1120,1580 1170,1615 1200,1665" fill="none" stroke="#666" stroke-width="1"/>
 <g stroke-linecap="butt">
  <line x1="900" y1="1785" x2="1010" y2="1628" stroke="#333" stroke-width="8"/><line x1="900" y1="1785" x2="1010" y2="1628" stroke="#f2f2f2" stroke-width="5"/>
  <line x1="1010" y1="1628" x2="1176" y2="1794" stroke="#333" stroke-width="8"/><line x1="1010" y1="1628" x2="1176" y2="1794" stroke="#f2f2f2" stroke-width="5"/>
  <line x1="920" y1="1775" x2="1131" y2="2043" stroke="#333" stroke-width="8"/><line x1="920" y1="1775" x2="1131" y2="2043" stroke="#f2f2f2" stroke-width="5"/>
  <line x1="1082" y1="1969" x2="1172" y2="1845" stroke="#333" stroke-width="8"/><line x1="1082" y1="1969" x2="1172" y2="1845" stroke="#f2f2f2" stroke-width="5"/>
  <line x1="1176" y1="1800" x2="1257" y2="1941" stroke="#333" stroke-width="8"/><line x1="1176" y1="1800" x2="1257" y2="1941" stroke="#f2f2f2" stroke-width="5"/>
 </g>
 <ellipse cx="1048" cy="1803" rx="76" ry="95" transform="rotate(-12 1048 1803)" fill="#9a9a9a" stroke="#222" stroke-width="2"/>
 <ellipse cx="1049" cy="1805" rx="67" ry="86" transform="rotate(-12 1049 1805)" fill="#bdbdbd" stroke="#333" stroke-width="1.2"/>
 <ellipse cx="1052" cy="1810" rx="56" ry="78" transform="rotate(-12 1052 1810)" fill="url(#gRed3d)" stroke="#333" stroke-width="1.2"/>
 <g stroke="#5a2020" stroke-width="1.5">
  <line x1="1062" y1="1752" x2="1092" y2="1762"/><line x1="1068" y1="1772" x2="1098" y2="1782"/><line x1="1070" y1="1792" x2="1100" y2="1800"/><line x1="1070" y1="1812" x2="1098" y2="1818"/><line x1="1066" y1="1832" x2="1094" y2="1836"/><line x1="1060" y1="1850" x2="1088" y2="1852"/>
 </g>
 <ellipse cx="1169" cy="1950" rx="34" ry="47" transform="rotate(-10 1169 1950)" fill="#d2d2d2" stroke="#333" stroke-width="1.5"/>
 <ellipse cx="1172" cy="1952" rx="18" ry="27" transform="rotate(-10 1172 1952)" fill="none" stroke="#333" stroke-width="1"/>
 <g fill="#444"><circle cx="1165" cy="1910" r="2.2"/><circle cx="1185" cy="1918" r="2.2"/><circle cx="1196" cy="1940" r="2.2"/><circle cx="1196" cy="1965" r="2.2"/><circle cx="1185" cy="1988" r="2.2"/><circle cx="1162" cy="1992" r="2.2"/><circle cx="1145" cy="1975" r="2.2"/><circle cx="1141" cy="1948" r="2.2"/><circle cx="1148" cy="1922" r="2.2"/><circle cx="1170" cy="1950" r="2.2"/></g>
 <polygon points="1284,1924 1382,1865 1330,1935 1252,1986" fill="#c6c6c6" stroke="#333" stroke-width="1.2"/>
 <polygon points="1176,1794 1270,1735 1382,1865 1284,1924" fill="#d8d8d8" stroke="#333" stroke-width="1.5"/>
 <polygon points="1196,1798 1268,1752 1368,1864 1290,1911" fill="#6a3a3a" stroke="#333" stroke-width="1.2"/>
 <polygon points="1196,1798 1230,1777 1250,1860 1225,1850" fill="#4a2424" opacity="0.7"/>
 <g fill="#333">
  <circle cx="1192" cy="1790" r="2"/><circle cx="1215" cy="1776" r="2"/><circle cx="1240" cy="1760" r="2"/><circle cx="1262" cy="1747" r="2"/>
  <circle cx="1290" cy="1760" r="2"/><circle cx="1316" cy="1790" r="2"/><circle cx="1342" cy="1820" r="2"/><circle cx="1368" cy="1850" r="2"/>
  <circle cx="1296" cy="1916" r="2"/><circle cx="1320" cy="1902" r="2"/><circle cx="1345" cy="1887" r="2"/><circle cx="1370" cy="1872" r="2"/>
  <circle cx="1200" cy="1812" r="2"/><circle cx="1222" cy="1845" r="2"/><circle cx="1246" cy="1878" r="2"/><circle cx="1268" cy="1908" r="2"/>
 </g>
 <text transform="translate(963,1655) rotate(48)" font-size="24" font-weight="bold" fill="#ffffff" opacity="0.85" textLength="150" lengthAdjust="spacingAndGlyphs">ukrvent.ua</text>
</g>

<!-- ================= FOOTER ================= -->
<g font-size="23" fill="#222">
 <text x="100" y="2188" textLength="257" lengthAdjust="spacingAndGlyphs">УКРВЕНТСИСТЕМИ</text>
 <text x="100" y="2220" textLength="190" lengthAdjust="spacingAndGlyphs">сайт:ukrvent.ua</text>
 <text x="100" y="2250" textLength="322" lengthAdjust="spacingAndGlyphs">E-mail: zavod@ukrvent.ua</text>
 <text x="1378" y="2188" textLength="193" lengthAdjust="spacingAndGlyphs">Відділ продажу</text>
 <text x="1175" y="2220" textLength="396" lengthAdjust="spacingAndGlyphs">+38 (097) 699-14-81 - Київстар;</text>
 <text x="1106" y="2250" textLength="465" lengthAdjust="spacingAndGlyphs">+38 (099) 199-69-06 - Vodofon (Viber)</text>
</g>
</svg>
</body></html>
